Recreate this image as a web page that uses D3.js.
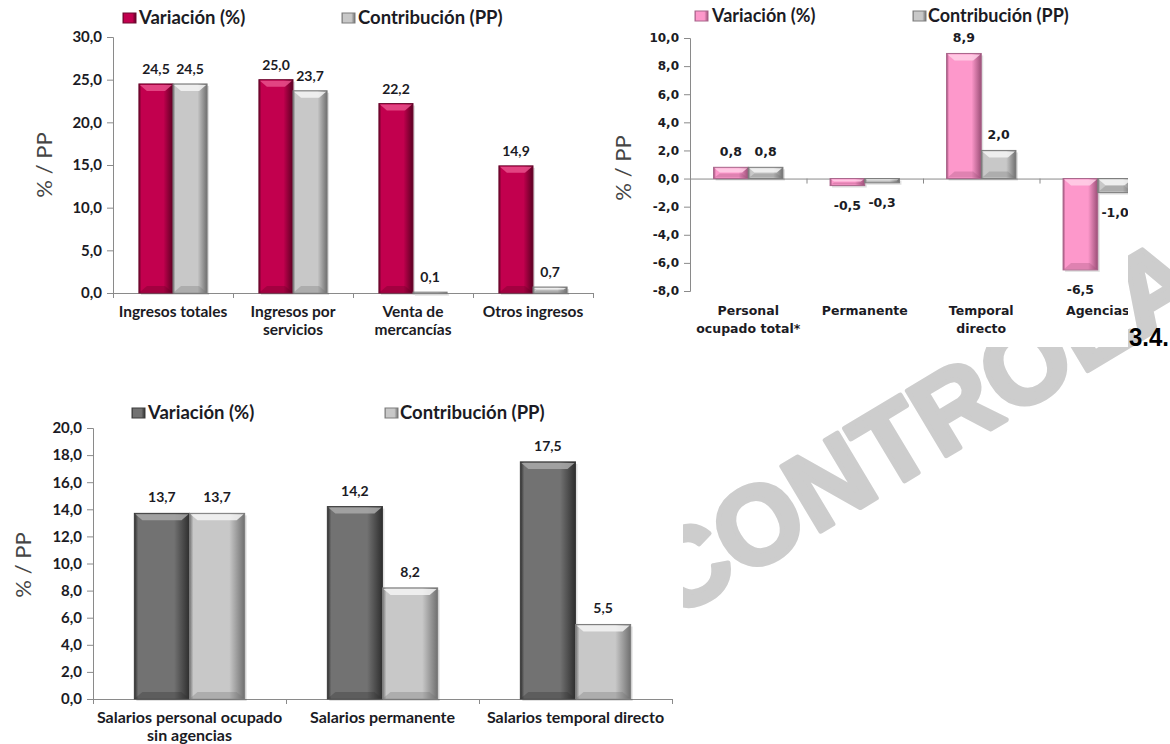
<!DOCTYPE html>
<html>
<head>
<meta charset="utf-8">
<script src="https://cdn.jsdelivr.net/npm/d3@7"></script>
<style>
  body { margin: 0; background: #fff; }
  svg { display: block; }
</style>
</head>
<body>
<svg id="chart" width="1170" height="744"></svg>
<script>
// ---- data ----
var serieNombres = ["Variación (%)", "Contribución (PP)"];
var ejeTitulo = "% / PP";

var ingresosCategorias = [["Ingresos totales"], ["Ingresos por", "servicios"], ["Venta de", "mercancías"], ["Otros ingresos"]];
var ingresosVariacion = [24.5, 25.0, 22.2, 14.9];
var ingresosContribucion = [24.5, 23.7, 0.1, 0.7];
var ingresosTicks = [0, 5, 10, 15, 20, 25, 30];

var personalCategorias = [["Personal", "ocupado total*"], ["Permanente"], ["Temporal", "directo"], ["Agencias"]];
var personalVariacion = [0.8, -0.5, 8.9, -6.5];
var personalContribucion = [0.8, -0.3, 2.0, -1.0];
var personalTicks = [-8, -6, -4, -2, 0, 2, 4, 6, 8, 10];

var salariosCategorias = [["Salarios personal ocupado", "sin agencias"], ["Salarios permanente"], ["Salarios temporal directo"]];
var salariosVariacion = [13.7, 14.2, 17.5];
var salariosContribucion = [13.7, 8.2, 5.5];
var salariosTicks = [0, 2, 4, 6, 8, 10, 12, 14, 16, 18, 20];

var marcaAgua = "CONTROLADO";
var seccion = "3.4.";

// ---- styles ----
var palettes = {
  crimson: { base: "#c2004e", hi: "#e8508c", dark: "#5c0022", edge: "#6e0a30" },
  pink:    { base: "#fd98cb", hi: "#ffd0e8", dark: "#9c4f78", edge: "#a8658a" },
  silver:  { base: "#c8c8c8", hi: "#f4f4f4", dark: "#707070", edge: "#7c7c7c" },
  graphite:{ base: "#727272", hi: "#a9a9a9", dark: "#2e2e2e", edge: "#3c3c3c" }
};
var textColor = "#1b1b24";
var axisColor = "#8a8a8a";

var locale = d3.formatLocale({ decimal: ",", thousands: ".", grouping: [3], currency: ["", "€"], minus: "-" });
var fmt = locale.format(".1f");

var svg = d3.select("#chart");
var defs = svg.append("defs");

Object.keys(palettes).forEach(function (k) {
  var p = palettes[k];
  var gr = defs.append("linearGradient").attr("id", "g-" + k)
    .attr("x1", "0").attr("x2", "1").attr("y1", "0").attr("y2", "0");
  gr.append("stop").attr("offset", "0%").attr("stop-color", p.dark);
  gr.append("stop").attr("offset", "7%").attr("stop-color", p.base);
  gr.append("stop").attr("offset", "72%").attr("stop-color", p.base);
  gr.append("stop").attr("offset", "100%").attr("stop-color", p.dark);
});

// watermark behind everything
svg.append("text")
  .attr("transform", "translate(673,620) rotate(-31)")
  .attr("font-family", "Liberation Sans, Arial, sans-serif")
  .attr("font-weight", "bold")
  .attr("font-size", 110)
  .attr("fill", "#cdcdcd")
  .attr("stroke", "#cdcdcd").attr("stroke-width", 5).attr("stroke-linejoin", "round")
  .text(marcaAgua);

svg.append("text")
  .attr("x", 1129).attr("y", 346)
  .attr("font-family", "Liberation Sans Narrow, Arial Narrow, Liberation Sans, sans-serif")
  .attr("font-weight", "bold")
  .attr("font-size", 26)
  .attr("textLength", 40).attr("lengthAdjust", "spacingAndGlyphs")
  .attr("fill", "#000")
  .text(seccion);

function drawBar(g, x, w, ya, yb, p) {
  var top = Math.min(ya, yb), h = Math.max(Math.abs(yb - ya), 1.5);
  g.append("rect").attr("x", x + 2).attr("y", top + 2).attr("width", w).attr("height", h)
    .attr("fill", "#000").attr("opacity", 0.12);
  g.append("rect").attr("x", x).attr("y", top).attr("width", w).attr("height", h)
    .attr("fill", "url(#g-" + p + ")")
    .attr("stroke", palettes[p].edge).attr("stroke-width", 1);
  var b = Math.min(7, h / 2 - 0.5);
  if (b > 1) {
    g.append("path")
      .attr("d", "M" + (x + 1) + "," + (top + 1) + "H" + (x + w - 1) + "L" + (x + w - 1 - b) + "," + (top + b) + "H" + (x + 1 + b) + "Z")
      .attr("fill", palettes[p].hi).attr("opacity", 0.85);
    g.append("path")
      .attr("d", "M" + (x + 1) + "," + (top + h - 1) + "H" + (x + w - 1) + "L" + (x + w - 1 - b) + "," + (top + h - b) + "H" + (x + 1 + b) + "Z")
      .attr("fill", palettes[p].dark).attr("opacity", 0.3);
  }
}

function barChart(cfg) {
  var g = svg.append("g");
  g.append("rect").attr("x", cfg.box[0]).attr("y", cfg.box[1])
    .attr("width", cfg.box[2]).attr("height", cfg.box[3]).attr("fill", "#fff");
  if (cfg.clip) {
    defs.append("clipPath").attr("id", cfg.clip).append("rect")
      .attr("x", cfg.box[0]).attr("y", cfg.box[1]).attr("width", cfg.box[2]).attr("height", cfg.box[3]);
    g.attr("clip-path", "url(#" + cfg.clip + ")");
  }

  var n = cfg.cats.length;
  var rows = cfg.cats.map(function (c, i) { return { i: i, cat: c, v: cfg.v[i], c: cfg.c[i] }; });

  var y = d3.scaleLinear().domain(d3.extent(cfg.ticks)).range([cfg.bottom, cfg.top]);
  var x0 = d3.scaleBand().domain(d3.range(n)).range([cfg.left, cfg.right]).padding(0);
  var x1 = d3.scaleBand().domain(["v", "c"]).range([0, x0.bandwidth()])
    .paddingInner(0).paddingOuter(cfg.pad);
  var xb = d3.scaleLinear().domain([0, n]).range([cfg.left, cfg.right]);

  // y axis
  var ya = g.append("g").attr("transform", "translate(" + cfg.left + ",0)")
    .call(d3.axisLeft(y).tickValues(cfg.ticks).tickFormat(fmt).tickSize(6).tickPadding(5));
  ya.select(".domain").attr("stroke", axisColor);
  ya.selectAll(".tick line").attr("stroke", axisColor);
  ya.selectAll(".tick text")
    .attr("font-family", cfg.tickFont).attr("font-weight", "bold")
    .attr("font-size", cfg.tickSize).attr("fill", textColor);

  // x axis on the zero line
  var xa = g.append("g").attr("transform", "translate(0," + y(0) + ")")
    .call(d3.axisBottom(xb).tickValues(d3.range(n + 1)).tickFormat("").tickSizeInner(5).tickSizeOuter(0));
  xa.select(".domain").attr("stroke", axisColor);
  xa.selectAll(".tick line").attr("stroke", axisColor);

  // bars
  rows.forEach(function (d) {
    var gx = x0(d.i);
    drawBar(g, gx + x1("v"), x1.bandwidth(), y(0), y(d.v), cfg.pal[0]);
    drawBar(g, gx + x1("c"), x1.bandwidth(), y(0), y(d.c), cfg.pal[1]);
  });

  // data labels
  rows.forEach(function (d) {
    [["v", d.v], ["c", d.c]].forEach(function (s) {
      var val = s[1];
      g.append("text")
        .attr("x", x0(d.i) + x1(s[0]) + x1.bandwidth() / 2)
        .attr("y", val >= 0 ? y(val) - cfg.labelGap : y(val) + cfg.negGap)
        .attr("text-anchor", "middle")
        .attr("font-family", cfg.labelFont).attr("font-weight", "bold")
        .attr("font-size", cfg.labelSize).attr("fill", textColor)
        .text(fmt(val));
    });
  });

  // category labels
  rows.forEach(function (d) {
    var t = g.append("text")
      .attr("x", x0(d.i) + x0.bandwidth() / 2)
      .attr("y", cfg.catY)
      .attr("text-anchor", "middle")
      .attr("font-family", cfg.catFont).attr("font-weight", "bold")
      .attr("font-size", cfg.catSize).attr("fill", textColor);
    d.cat.forEach(function (line, k) {
      t.append("tspan").attr("x", x0(d.i) + x0.bandwidth() / 2).attr("dy", k === 0 ? 0 : cfg.catLine).text(line);
    });
  });

  // axis title
  g.append("text")
    .attr("transform", "translate(" + cfg.title[0] + "," + cfg.title[1] + ") rotate(-90)")
    .attr("text-anchor", "middle")
    .attr("font-family", "Lato, Open Sans, sans-serif")
    .attr("font-size", 22).attr("fill", "#454545")
    .text(ejeTitulo);

  // legend
  cfg.legend.forEach(function (L, k) {
    var p = palettes[cfg.pal[k]];
    g.append("rect").attr("x", L[0]).attr("y", L[2] - 5).attr("width", 13).attr("height", 10)
      .attr("fill", "url(#g-" + cfg.pal[k] + ")").attr("stroke", p.edge).attr("stroke-width", 1);
    g.append("text").attr("x", L[1]).attr("y", L[2] + 6)
      .attr("font-family", "Lato, Open Sans, sans-serif").attr("font-weight", "bold")
      .attr("font-size", cfg.legendSize).attr("fill", textColor)
      .text(serieNombres[k]);
  });
}

barChart({
  cats: ingresosCategorias, v: ingresosVariacion, c: ingresosContribucion, ticks: ingresosTicks,
  box: [0, 0, 600, 345], left: 113, right: 593, top: 37, bottom: 293, pad: 0.76,
  pal: ["crimson", "silver"],
  tickFont: "Lato, sans-serif", tickSize: 15,
  labelFont: "Lato, sans-serif", labelSize: 14, labelGap: 10, negGap: 24,
  catFont: "Lato, sans-serif", catSize: 15.5, catY: 317, catLine: 18,
  title: [52, 165], legendSize: 18.5,
  legend: [[123, 139, 18], [342, 358, 18]]
});

barChart({
  cats: personalCategorias, v: personalVariacion, c: personalContribucion, ticks: personalTicks,
  box: [600, 0, 528, 347], clip: "clip2", left: 690, right: 1156, top: 38, bottom: 291, pad: 0.68,
  pal: ["pink", "silver"],
  tickFont: "DejaVu Sans, Verdana, sans-serif", tickSize: 12,
  labelFont: "DejaVu Sans, Verdana, sans-serif", labelSize: 12.5, labelGap: 11, negGap: 24,
  catFont: "DejaVu Sans, Verdana, sans-serif", catSize: 12.5, catY: 315, catLine: 18,
  title: [631, 168], legendSize: 18,
  legend: [[695, 712, 16], [913, 928, 16]]
});

barChart({
  cats: salariosCategorias, v: salariosVariacion, c: salariosContribucion, ticks: salariosTicks,
  box: [0, 372, 683, 372], left: 93, right: 672, top: 428, bottom: 699, pad: 0.75,
  pal: ["graphite", "silver"],
  tickFont: "Lato, sans-serif", tickSize: 15,
  labelFont: "Lato, sans-serif", labelSize: 14, labelGap: 11, negGap: 24,
  catFont: "Lato, sans-serif", catSize: 16, catY: 723, catLine: 18,
  title: [31, 565], legendSize: 18.5,
  legend: [[132, 148, 413], [385, 400, 413]]
});
</script>
</body>
</html>
